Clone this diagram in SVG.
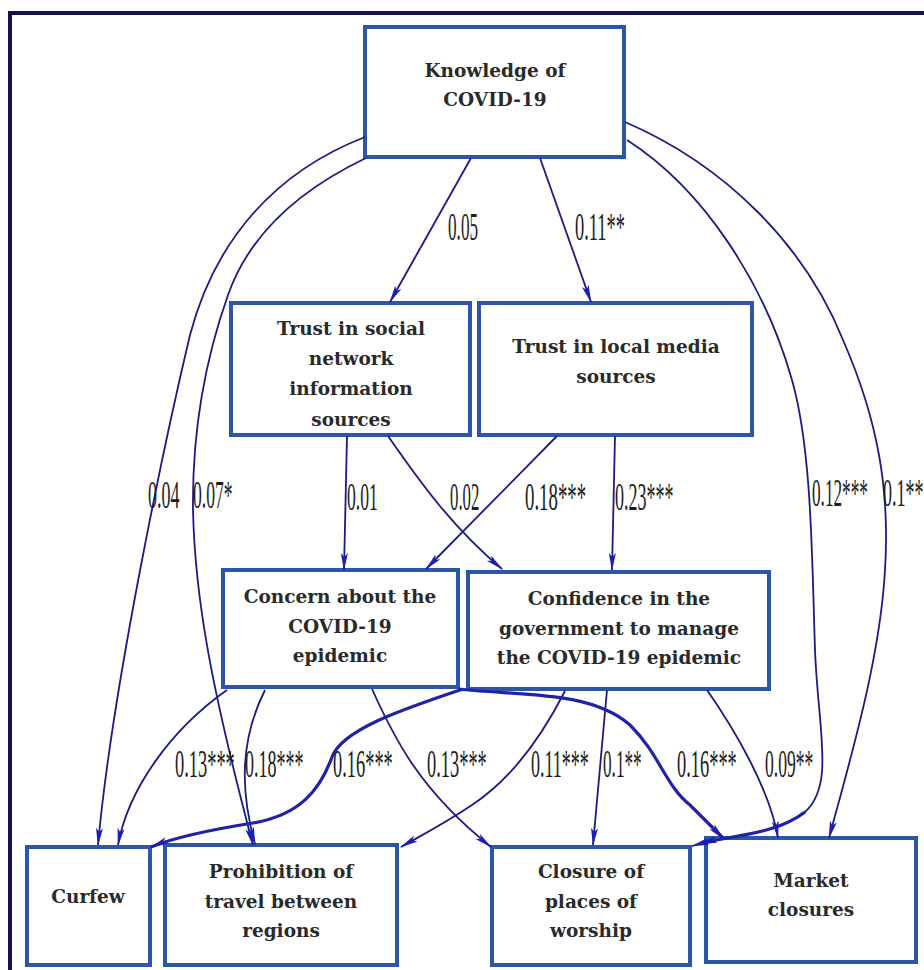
<svg xmlns="http://www.w3.org/2000/svg" width="924" height="970" viewBox="0 0 924 970">
<defs>
<style>
.box{fill:#fff;stroke:#2e56a6;stroke-width:4}
.nt{font-family:"DejaVu Serif","Liberation Serif",serif;font-weight:bold;font-size:18.5px;fill:#2a2a2a;text-anchor:middle}
.e{fill:none;stroke:#1b1b86;stroke-width:1.8;marker-end:url(#ah)}
.t{stroke-width:3.2;stroke:#2222a8}
.lb{font-family:"Liberation Serif",serif;font-size:40px;fill:#1c1c1c}
</style>
<marker id="ah" markerWidth="18" markerHeight="10" refX="17" refY="5" orient="auto" markerUnits="userSpaceOnUse">
<path d="M0,1.5 L18,5 L0,8.5 L4,5 Z" fill="#1d1db4"/>
</marker>
</defs>
<rect width="924" height="970" fill="#fff"/>
<rect x="10" y="13" width="1000" height="1000" fill="none" stroke="#12124f" stroke-width="4"/>

<g id="knowledge"><rect class="box" x="365" y="27" width="259" height="130"/>
<text class="nt" x="495" y="77">Knowledge of</text><text class="nt" x="495" y="106">COVID-19</text></g>
<g id="trust-social"><rect class="box" x="231" y="303" width="239" height="132"/>
<text class="nt" x="351" y="335">Trust in social</text><text class="nt" x="351" y="365">network</text><text class="nt" x="351" y="395">information</text><text class="nt" x="351" y="426">sources</text></g>
<g id="trust-local"><rect class="box" x="479" y="303" width="273" height="132"/>
<text class="nt" x="616" y="353">Trust in local media</text><text class="nt" x="616" y="383">sources</text></g>
<g id="concern"><rect class="box" x="223" y="570" width="235" height="117"/>
<text class="nt" x="340" y="603">Concern about the</text><text class="nt" x="340" y="633">COVID-19</text><text class="nt" x="340" y="662">epidemic</text></g>
<g id="confidence"><rect class="box" x="468" y="572" width="301" height="117"/>
<text class="nt" x="619" y="605">Confidence in the</text><text class="nt" x="619" y="635">government to manage</text><text class="nt" x="619" y="664">the COVID-19 epidemic</text></g>
<g id="curfew"><rect class="box" x="27" y="847" width="123" height="118"/>
<text class="nt" x="88" y="903">Curfew</text></g>
<g id="prohibition"><rect class="box" x="165" y="845" width="232" height="120"/>
<text class="nt" x="281" y="878">Prohibition of</text><text class="nt" x="281" y="908">travel between</text><text class="nt" x="281" y="937">regions</text></g>
<g id="worship"><rect class="box" x="492" y="847" width="198" height="118"/>
<text class="nt" x="591" y="878">Closure of</text><text class="nt" x="591" y="908">places of</text><text class="nt" x="591" y="937">worship</text></g>
<g id="market"><rect class="box" x="706" y="838" width="210" height="124"/>
<text class="nt" x="811" y="887">Market</text><text class="nt" x="811" y="916">closures</text></g>

<g id="connectors">
<path class="e" d="M471,158 L390,302"/>
<path class="e" d="M540,158 L591,302"/>
<path class="e" d="M365,137 C275,172 215,240 190,335 C165,440 112,690 98,845"/>
<path class="e" d="M366,158 C295,192 248,238 228,295 C205,360 192,430 193,510 C195,600 212,690 253,845"/>
<path class="e" d="M625,122 C725,165 805,245 843,340 C878,420 890,490 885,570 C880,660 850,760 829,838"/>
<path class="e" d="M627,140 C705,190 765,285 792,380 C812,450 812,560 815,650 C818,730 835,785 805,812 C775,835 735,834 692,846"/>
<path class="e t" d="M805,812 C775,835 735,834 700,844" marker-end="none"/>
<path class="e" d="M347,436 L344,570"/>
<path class="e" d="M388,436 C420,482 452,527 502,569"/>
<path class="e" d="M557,436 L426,569"/>
<path class="e" d="M615,436 L612,570"/>
<path class="e" d="M227,690 C170,730 128,790 118,845"/>
<path class="e" d="M265,690 C240,740 240,790 255,844"/>
<path class="e t" d="M463,689 C400,710 342,730 332,757 C320,790 300,815 253,823 C215,829 178,836 151,847"/>
<path class="e" d="M372,689 C395,740 420,790 491,847"/>
<path class="e" d="M565,691 C540,740 510,780 472,805 C442,825 422,835 401,847"/>
<path class="e" d="M607,690 L593,845"/>
<path class="e t" d="M458,689 C520,696 590,690 630,725 C660,755 665,785 690,805 C705,820 714,829 724,839"/>
<path class="e" d="M707,690 C735,730 770,790 778,838"/>
</g>

<g id="labels">
<text class="lb" transform="matrix(0.43,0,0,1,448,240)">0.05</text>
<text class="lb" transform="matrix(0.46,0,0,1,575,240)">0.11**</text>
<text class="lb" transform="matrix(0.45,0,0,1,148,508)">0.04</text>
<text class="lb" transform="matrix(0.44,0,0,1,193,508)">0.07*</text>
<text class="lb" transform="matrix(0.44,0,0,1,347,510)">0.01</text>
<text class="lb" transform="matrix(0.42,0,0,1,450,510)">0.02</text>
<text class="lb" transform="matrix(0.47,0,0,1,525,510)">0.18***</text>
<text class="lb" transform="matrix(0.45,0,0,1,615,510)">0.23***</text>
<text class="lb" transform="matrix(0.43,0,0,1,812,506)">0.12***</text>
<text class="lb" transform="matrix(0.45,0,0,1,883,506)">0.1**</text>
<text class="lb" transform="matrix(0.46,0,0,1,175,777)">0.13***</text>
<text class="lb" transform="matrix(0.45,0,0,1,245,777)">0.18***</text>
<text class="lb" transform="matrix(0.46,0,0,1,333,777)">0.16***</text>
<text class="lb" transform="matrix(0.46,0,0,1,427,777)">0.13***</text>
<text class="lb" transform="matrix(0.45,0,0,1,531,777)">0.11***</text>
<text class="lb" transform="matrix(0.43,0,0,1,603,777)">0.1**</text>
<text class="lb" transform="matrix(0.46,0,0,1,677,777)">0.16***</text>
<text class="lb" transform="matrix(0.44,0,0,1,765,777)">0.09**</text>
</g>
</svg>
